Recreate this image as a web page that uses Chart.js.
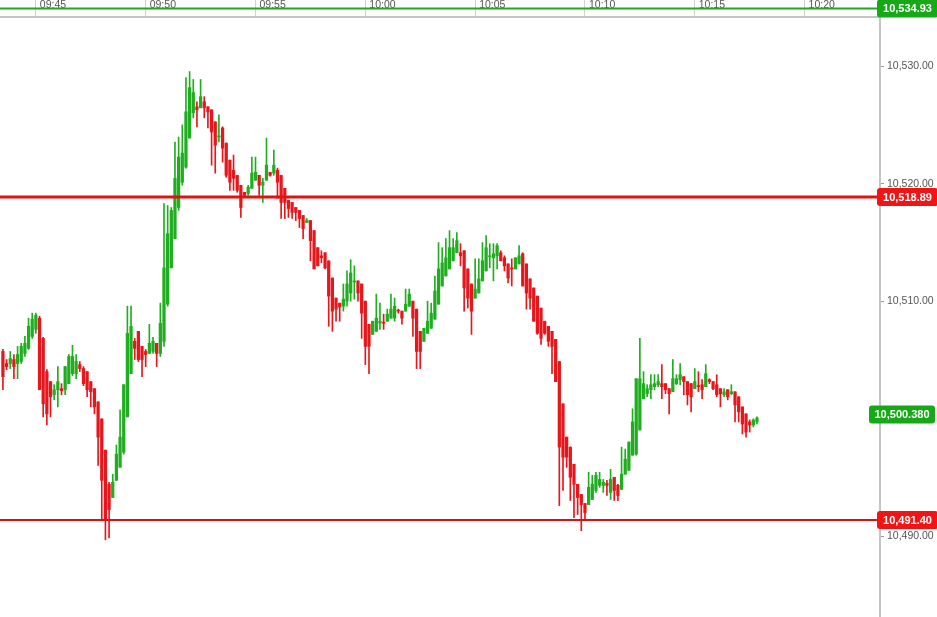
<!DOCTYPE html>
<html>
<head>
<meta charset="utf-8">
<title>10s candles</title>
<script src="https://cdn.jsdelivr.net/npm/chart.js@4.4.1/dist/chart.umd.min.js"></script>
<style>
  html, body { margin: 0; padding: 0; background: #fff; }
  #wrap { width: 937px; height: 617px; position: relative; }
</style>
</head>
<body>
<div id="wrap"><canvas id="chart"></canvas></div>
<script>
// 10 second candles, first one at 09:43:30
const startTime = '09:43:30';
const candleSeconds = 10;
// visible time window of the axis and its labels
const axisStart = '09:43:22';
const axisEnd = '10:23:26';
const timeTicks = ['09:45', '09:50', '09:55', '10:00', '10:05', '10:10', '10:15', '10:20'];

const opens = [
  10505.75, 10504.72, 10504.72, 10505.06, 10504.72, 10504.89, 10505.58, 10506.01, 10507.03, 10507.63,
  10508.58, 10506.86, 10504.03, 10503.18, 10502.06, 10502.49, 10502.58, 10502.49, 10503.01, 10503.86,
  10503.86, 10504.63, 10504.29, 10504.03, 10503.18, 10502.58, 10501.46, 10500.01, 10497.35, 10494.44,
  10493.32, 10494.78, 10495.89, 10497.18, 10500.18, 10503.86, 10506.61, 10507.46, 10506.18, 10505.75,
  10505.58, 10505.75, 10506.44, 10505.58, 10506.61, 10509.77, 10512.86, 10515.35, 10518.00, 10520.15,
  10521.43, 10523.91, 10526.06, 10526.57, 10526.48, 10527.00, 10526.57, 10526.31, 10525.29, 10524.00,
  10524.77, 10523.48, 10522.03, 10521.17, 10520.74, 10519.89, 10519.29, 10519.20, 10519.63, 10520.32,
  10520.74, 10519.89, 10520.32, 10521.00, 10520.92, 10521.17, 10520.74, 10519.63, 10518.60, 10518.43,
  10518.00, 10517.75, 10517.32, 10516.72, 10516.89, 10516.03, 10514.58, 10513.89, 10514.15, 10513.46,
  10512.00, 10510.29, 10509.86, 10509.60, 10510.03, 10510.72, 10511.66, 10511.75, 10511.49, 10510.03,
  10508.06, 10507.20, 10507.46, 10508.15, 10508.23, 10508.32, 10508.58, 10508.58, 10509.26, 10509.18,
  10509.18, 10509.60, 10510.03, 10509.35, 10507.46, 10506.61, 10507.29, 10507.72, 10508.49, 10509.77,
  10511.32, 10512.17, 10512.77, 10513.46, 10514.15, 10514.15, 10514.32, 10512.77, 10511.49, 10510.29,
  10510.72, 10511.75, 10512.60, 10513.81, 10513.72, 10513.89, 10514.15, 10513.72, 10513.20, 10512.86,
  10512.77, 10513.20, 10514.06, 10513.20, 10511.92, 10511.15, 10510.46, 10509.44, 10508.32, 10507.89,
  10507.46, 10506.78, 10504.89, 10501.29, 10498.46, 10497.61, 10496.15, 10494.44, 10493.58, 10492.81,
  10492.72, 10493.15, 10493.92, 10494.35, 10494.35, 10494.52, 10493.75, 10495.04, 10494.35, 10494.01,
  10495.30, 10495.63, 10496.92, 10497.01, 10499.06, 10501.72, 10502.15, 10502.49, 10502.75, 10502.92,
  10503.01, 10503.01, 10502.58, 10502.32, 10503.01, 10503.35, 10503.60, 10503.18, 10503.01, 10502.58,
  10502.84, 10502.92, 10502.75, 10503.35, 10503.18, 10502.92, 10502.58, 10502.06, 10502.49, 10502.15,
  10502.32, 10501.89, 10501.03, 10500.44, 10499.75, 10499.49, 10499.75
];
const highs = [
  10505.92, 10505.06, 10505.75, 10505.49, 10506.18, 10506.44, 10507.03, 10508.58, 10509.01, 10509.01,
  10508.75, 10506.95, 10504.20, 10503.18, 10502.92, 10504.46, 10503.01, 10504.46, 10505.49, 10506.27,
  10505.49, 10504.89, 10504.46, 10504.03, 10503.18, 10502.58, 10501.46, 10500.01, 10497.35, 10494.61,
  10495.30, 10497.78, 10500.78, 10502.92, 10509.60, 10509.60, 10506.86, 10507.46, 10506.18, 10505.92,
  10508.06, 10506.95, 10506.44, 10509.86, 10518.34, 10518.17, 10518.00, 10523.57, 10524.00, 10525.03,
  10529.05, 10529.57, 10528.89, 10527.00, 10528.89, 10527.43, 10526.57, 10526.31, 10525.29, 10525.89,
  10524.86, 10523.48, 10522.03, 10522.46, 10520.74, 10519.89, 10519.29, 10519.89, 10522.29, 10522.29,
  10520.74, 10520.48, 10523.91, 10521.00, 10522.89, 10521.35, 10520.74, 10519.63, 10518.60, 10518.43,
  10518.00, 10517.75, 10517.32, 10517.06, 10516.89, 10516.03, 10514.58, 10514.32, 10514.15, 10513.46,
  10512.00, 10510.29, 10509.86, 10511.49, 10512.60, 10513.55, 10513.03, 10511.75, 10511.49, 10510.03,
  10508.06, 10508.32, 10510.63, 10509.86, 10508.92, 10509.35, 10510.63, 10510.29, 10509.35, 10509.18,
  10511.06, 10511.06, 10510.03, 10509.35, 10507.46, 10507.72, 10510.03, 10509.86, 10512.17, 10515.01,
  10514.58, 10515.35, 10516.03, 10515.35, 10515.86, 10514.92, 10514.32, 10512.77, 10511.49, 10513.63,
  10513.63, 10515.01, 10515.61, 10514.92, 10514.92, 10514.92, 10514.32, 10513.89, 10513.20, 10513.63,
  10513.72, 10514.75, 10514.15, 10513.20, 10511.92, 10511.15, 10510.46, 10509.44, 10508.32, 10507.89,
  10507.46, 10506.78, 10504.89, 10501.29, 10498.46, 10497.61, 10496.15, 10494.44, 10493.58, 10492.81,
  10495.47, 10495.21, 10495.47, 10495.47, 10494.86, 10494.78, 10495.72, 10495.04, 10494.44, 10497.61,
  10497.44, 10498.04, 10500.87, 10503.43, 10506.86, 10504.03, 10502.92, 10503.77, 10503.77, 10503.77,
  10504.63, 10503.01, 10502.58, 10505.06, 10503.77, 10504.72, 10503.60, 10503.18, 10503.01, 10504.29,
  10504.03, 10503.35, 10504.63, 10503.43, 10503.18, 10503.77, 10502.58, 10502.58, 10502.49, 10502.92,
  10502.32, 10501.89, 10501.03, 10500.44, 10499.92, 10500.01, 10500.18
];
const lows = [
  10502.49, 10504.20, 10504.29, 10503.43, 10503.43, 10504.72, 10505.32, 10505.92, 10506.86, 10507.29,
  10502.49, 10500.18, 10499.49, 10500.18, 10501.63, 10501.03, 10502.06, 10502.06, 10503.01, 10503.69,
  10503.43, 10504.03, 10502.84, 10501.89, 10501.03, 10500.44, 10496.06, 10491.44, 10489.72, 10489.89,
  10493.32, 10494.78, 10495.89, 10497.01, 10500.18, 10503.86, 10505.06, 10504.89, 10503.60, 10504.46,
  10505.58, 10505.58, 10504.46, 10505.32, 10506.18, 10509.60, 10512.86, 10515.35, 10517.75, 10519.89,
  10521.35, 10523.91, 10525.63, 10524.86, 10526.48, 10525.63, 10524.77, 10521.60, 10520.92, 10523.57,
  10521.86, 10520.57, 10519.46, 10519.46, 10519.29, 10517.15, 10519.03, 10519.03, 10519.63, 10520.32,
  10519.03, 10518.43, 10520.32, 10520.66, 10520.74, 10518.77, 10517.06, 10517.06, 10517.15, 10517.06,
  10516.89, 10516.29, 10515.35, 10516.72, 10513.46, 10512.77, 10513.03, 10513.29, 10512.77, 10507.89,
  10507.46, 10508.32, 10508.32, 10509.18, 10509.60, 10510.03, 10510.20, 10510.03, 10506.86, 10504.63,
  10503.86, 10507.20, 10507.46, 10507.63, 10507.63, 10508.32, 10508.58, 10508.32, 10509.01, 10508.06,
  10509.18, 10509.60, 10507.03, 10504.29, 10504.29, 10506.61, 10507.29, 10507.72, 10508.49, 10509.77,
  10511.32, 10512.17, 10512.77, 10513.46, 10514.15, 10513.03, 10509.18, 10509.44, 10507.20, 10510.29,
  10510.72, 10511.75, 10512.60, 10512.86, 10511.75, 10512.77, 10513.46, 10512.60, 10511.58, 10511.32,
  10512.77, 10513.20, 10511.32, 10509.35, 10509.35, 10508.32, 10507.20, 10506.35, 10507.20, 10506.18,
  10503.86, 10503.18, 10492.63, 10493.92, 10495.89, 10493.06, 10491.61, 10491.87, 10490.49, 10491.35,
  10492.72, 10493.15, 10493.75, 10494.18, 10493.75, 10493.49, 10493.15, 10493.06, 10493.06, 10494.01,
  10495.30, 10495.63, 10496.92, 10496.92, 10499.06, 10501.72, 10501.89, 10501.72, 10502.49, 10502.75,
  10501.72, 10502.15, 10500.44, 10502.32, 10502.92, 10502.92, 10502.06, 10501.20, 10500.61, 10502.58,
  10502.32, 10501.72, 10502.75, 10503.01, 10502.49, 10501.89, 10501.03, 10501.89, 10501.63, 10502.06,
  10499.75, 10499.75, 10498.72, 10498.46, 10498.89, 10499.32, 10499.58
];
const closes = [
  10503.60, 10504.46, 10505.15, 10504.46, 10505.49, 10506.18, 10506.44, 10507.89, 10508.49, 10508.84,
  10502.49, 10501.29, 10500.44, 10501.89, 10502.49, 10503.18, 10502.41, 10504.46, 10505.32, 10505.32,
  10504.89, 10504.29, 10503.01, 10502.49, 10502.32, 10501.03, 10498.46, 10494.78, 10491.44, 10492.29,
  10494.61, 10497.01, 10498.46, 10502.92, 10507.29, 10507.89, 10506.01, 10505.06, 10505.06, 10505.49,
  10506.44, 10506.61, 10505.58, 10508.15, 10512.86, 10515.77, 10517.75, 10520.48, 10522.29, 10522.63,
  10526.14, 10528.20, 10527.77, 10526.31, 10527.43, 10526.48, 10526.14, 10524.43, 10523.31, 10524.09,
  10523.05, 10520.74, 10520.15, 10520.48, 10519.46, 10518.00, 10519.03, 10519.72, 10520.92, 10521.00,
  10519.89, 10520.15, 10521.60, 10520.74, 10521.60, 10520.15, 10518.43, 10518.43, 10517.91, 10517.58,
  10517.58, 10517.06, 10516.20, 10516.89, 10515.18, 10512.77, 10513.03, 10513.72, 10512.86, 10510.46,
  10509.18, 10509.35, 10509.52, 10510.20, 10511.49, 10512.43, 10511.75, 10510.72, 10509.01, 10506.18,
  10506.18, 10508.32, 10508.58, 10508.32, 10508.15, 10508.92, 10509.35, 10509.60, 10509.18, 10508.58,
  10509.77, 10510.63, 10508.58, 10505.75, 10505.75, 10507.72, 10508.32, 10509.01, 10510.89, 10512.77,
  10513.29, 10513.72, 10514.58, 10514.58, 10515.18, 10513.89, 10511.15, 10510.29, 10509.18, 10511.06,
  10511.92, 10513.46, 10514.58, 10513.89, 10514.06, 10514.75, 10513.46, 10513.03, 10512.00, 10512.77,
  10513.72, 10513.89, 10511.32, 10510.72, 10510.29, 10508.32, 10507.29, 10506.86, 10507.29, 10506.61,
  10506.18, 10503.18, 10497.61, 10496.75, 10496.75, 10495.04, 10494.44, 10493.32, 10492.72, 10492.04,
  10494.18, 10494.44, 10495.21, 10494.86, 10494.61, 10494.35, 10494.86, 10493.92, 10493.49, 10495.30,
  10496.58, 10498.04, 10499.75, 10503.43, 10503.43, 10503.01, 10502.58, 10502.92, 10503.01, 10503.18,
  10502.75, 10502.49, 10502.15, 10503.43, 10503.43, 10503.77, 10503.18, 10502.06, 10501.89, 10503.18,
  10502.75, 10502.49, 10503.86, 10503.18, 10502.58, 10502.06, 10502.15, 10502.32, 10501.89, 10502.32,
  10501.20, 10500.61, 10499.58, 10498.89, 10499.49, 10499.92, 10500.09
];

// horizontal price levels with their tags on the right
const levelValues = [10534.93, 10518.89, 10491.40];
const levelColors = ['#1ea91e', '#e61010', '#d41414'];
const levelWidths = [2, 3, 2];
const badgeColors = ['#16a816', '#f01414', '#f01414'];
const lastPrice = 10500.380;

const yMin = 10483.15;
const yMax = 10534.21;

const GREEN = '#1fae1f';
const RED = '#e5171c';

function toSec(hms) {
    const p = hms.split(':').map(Number);
    return p[0] * 3600 + p[1] * 60 + (p[2] || 0);
}
function hhmm(sec) {
    const h = Math.floor(sec / 3600), m = Math.round((sec % 3600) / 60);
    return String(h).padStart(2, '0') + ':' + String(m).padStart(2, '0');
}
function price(v, d) {
    return v.toLocaleString('en-US', { minimumFractionDigits: d, maximumFractionDigits: d });
}

const t0 = toSec(startTime);
const xMin = toSec(axisStart), xMax = toSec(axisEnd);
const times = opens.map((_, i) => t0 + i * candleSeconds);
const colors = closes.map((c, i) => c >= opens[i] ? GREEN : RED);

const lineSets = levelValues.map((v, k) => ({
    type: 'line',
    data: [{ x: xMin, y: v }, { x: xMax, y: v }],
    borderColor: levelColors[k],
    borderWidth: levelWidths[k],
    pointRadius: 0,
    clip: false,
    order: 0
}));

// tags drawn after everything else, placed with the y scale
const badges = {
    id: 'badges',
    afterDraw(chart) {
        const ctx = chart.ctx, ys = chart.scales.y;
        const tag = (value, text, color, left, right) => {
            const py = ys.getPixelForValue(value);
            const top = py - 9, h = 18, r = 3;
            ctx.save();
            ctx.fillStyle = color;
            ctx.beginPath();
            ctx.moveTo(left + r, top);
            ctx.arcTo(right, top, right, top + h, r);
            ctx.arcTo(right, top + h, left, top + h, r);
            ctx.arcTo(left, top + h, left, top, r);
            ctx.arcTo(left, top, right, top, r);
            ctx.closePath();
            ctx.fill();
            ctx.fillStyle = '#fff';
            ctx.font = 'bold 11px "Liberation Sans", Arial, sans-serif';
            ctx.textAlign = 'center';
            ctx.textBaseline = 'middle';
            ctx.fillText(text, (left + right) / 2, py + 0.5);
            ctx.restore();
        };
        levelValues.forEach((v, k) => tag(v, price(v, 2), badgeColors[k], 877, 938));
        tag(lastPrice, price(lastPrice, 3), badgeColors[0], 869, 935);
    }
};

const axisFont = { family: '"Liberation Sans", Arial, sans-serif', size: 10.5 };

new Chart(document.getElementById('chart'), {
    type: 'bar',
    data: {
        datasets: [
            ...lineSets,
            {
                label: 'body',
                data: times.map((t, i) => ({ x: t, y: [opens[i], closes[i]] })),
                backgroundColor: colors,
                barThickness: 2.6,
                minBarLength: 1,
                grouped: false,
                order: 1
            },
            {
                label: 'wick',
                data: times.map((t, i) => ({ x: t, y: [lows[i], highs[i]] })),
                backgroundColor: colors,
                barThickness: 1,
                grouped: false,
                order: 2
            }
        ]
    },
    options: {
        responsive: true,
        maintainAspectRatio: false,
        animation: false,
        layout: { padding: 0 },
        plugins: { legend: { display: false }, tooltip: { enabled: false } },
        scales: {
            x: {
                type: 'linear',
                position: 'top',
                offset: false,
                min: xMin,
                max: xMax,
                afterBuildTicks: s => { s.ticks = timeTicks.map(t => ({ value: toSec(t) })); },
                afterFit: s => { s.height = 17; s.paddingLeft = 0; s.paddingRight = 0; },
                grid: { drawOnChartArea: false, tickLength: 17, color: '#d0d0d0', offset: false },
                border: { color: '#c4c4c4', width: 2 },
                ticks: {
                    autoSkip: false,
                    maxRotation: 0,
                    align: 'start',
                    labelOffset: 4,
                    padding: -11,
                    color: '#555',
                    font: axisFont,
                    callback: v => hhmm(v)
                }
            },
            y: {
                position: 'right',
                min: yMin,
                max: yMax,
                afterFit: s => { s.width = 57; s.paddingTop = 0; s.paddingBottom = 0; },
                grid: { drawOnChartArea: false, tickLength: 4, color: '#999' },
                border: { color: '#c4c4c4', width: 2 },
                ticks: {
                    stepSize: 10,
                    includeBounds: false,
                    padding: 3,
                    color: '#555',
                    font: axisFont,
                    callback: v => price(v, 2)
                }
            }
        }
    },
    plugins: [badges]
});
</script>
</body>
</html>
